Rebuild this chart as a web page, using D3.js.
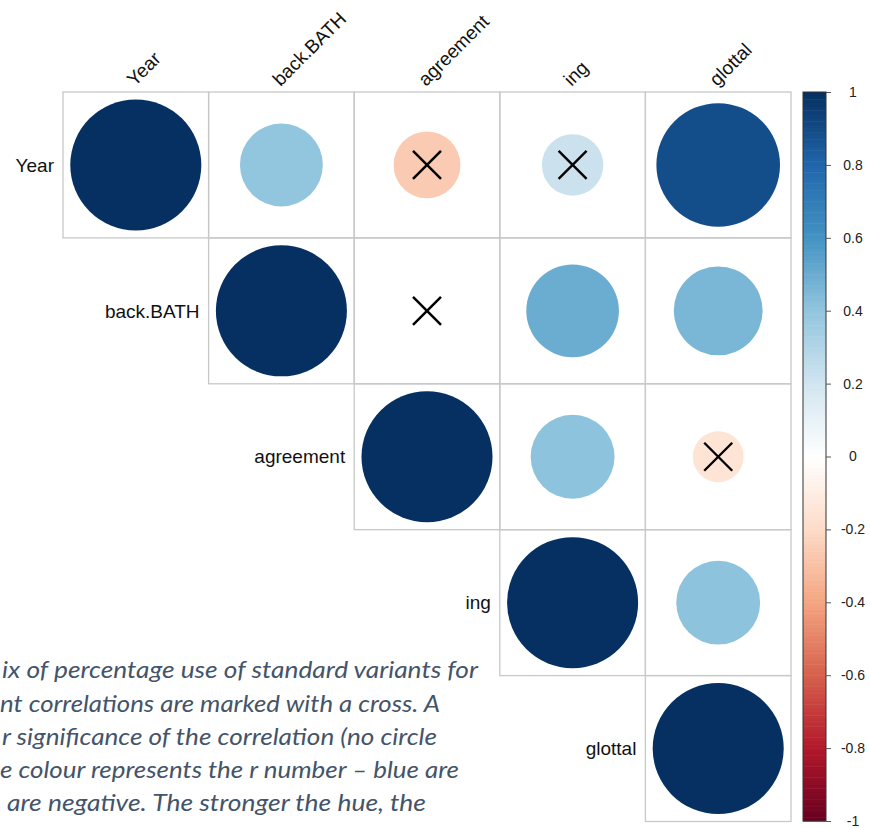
<!DOCTYPE html>
<html>
<head>
<meta charset="utf-8">
<script src="https://cdn.jsdelivr.net/npm/d3@7"></script>
<style>
  html, body { margin: 0; padding: 0; background: #fff; }
  svg { display: block; }
</style>
</head>
<body>
<svg id="chart" width="870" height="828"></svg>
<script>
// ---- data ----
const variables = ["Year", "back.BATH", "agreement", "ing", "glottal"];
const corrYear      = [1.00, 0.40, -0.26, 0.22, 0.89];
const corrBackBATH  = [0.40, 1.00, 0.00, 0.50, 0.46];
const corrAgreement = [-0.26, 0.00, 1.00, 0.41, -0.15];
const corrIng       = [0.22, 0.50, 0.41, 1.00, 0.41];
const corrGlottal   = [0.89, 0.46, -0.15, 0.41, 1.00];
const corrMatrix = [corrYear, corrBackBATH, corrAgreement, corrIng, corrGlottal];
// insignificant pairs (row, col) marked with a cross
const insigRow = [0, 0, 1, 2];
const insigCol = [2, 3, 2, 4];
const colorbarTicks = [1, 0.8, 0.6, 0.4, 0.2, 0, -0.2, -0.4, -0.6, -0.8, -1];
const colorbarLabels = ["1", "0.8", "0.6", "0.4", "0.2", "0", "-0.2", "-0.4", "-0.6", "-0.8", "-1"];
const paletteDomain = [-1, -0.8, -0.6, -0.4, -0.2, 0, 0.2, 0.4, 0.6, 0.8, 1];
const paletteColors = ["#67001F", "#B2182B", "#D6604D", "#F4A582", "#FDDBC7", "#FFFFFF",
                       "#D1E5F0", "#92C5DE", "#4393C3", "#2166AC", "#053061"];
const captionLines = [
  "ix of percentage use of standard variants for",
  "nt correlations are marked with a cross. A",
  "r significance of the correlation (no circle",
  "e colour represents the r number \u2013 blue are",
  "are negative. The stronger the hue, the"
];

// ---- drawing ----
const svg = d3.select("#chart");
const color = d3.scaleLinear().domain(paletteDomain).range(paletteColors).interpolate(d3.interpolateRgb);
const x = d3.scaleBand().domain(d3.range(variables.length)).range([63, 791]);
const y = d3.scaleBand().domain(d3.range(variables.length)).range([92, 821.5]);
const cell = x.bandwidth();
const rScale = d3.scaleSqrt().domain([0, 1]).range([0, cell / 2 * 0.9]);

// caption (cropped at left in the reference)
const capX = [2, 0, 2, 0, 7];
const capEnd = [478, 440, 437, 459, 426];
const capY = [678, 712, 745, 778, 811];
svg.append("g").selectAll("text").data(captionLines).join("text")
  .attr("x", (d, i) => capX[i])
  .attr("y", (d, i) => capY[i])
  .attr("textLength", (d, i) => capEnd[i] - capX[i])
  .attr("lengthAdjust", "spacingAndGlyphs")
  .attr("font-family", "Lato, 'Open Sans', sans-serif")
  .attr("font-style", "italic")
  .attr("font-size", 23)
  .attr("fill", "#44546A")
  .text(d => d);

// cells (upper triangle)
const cells = [];
corrMatrix.forEach((row, i) => row.forEach((v, j) => { if (j >= i) cells.push({ i, j, v }); }));

const g = svg.append("g");
g.selectAll("rect.cell").data(cells).join("rect")
  .attr("class", "cell")
  .attr("x", d => x(d.j))
  .attr("y", d => y(d.i))
  .attr("width", cell)
  .attr("height", y.bandwidth())
  .attr("fill", "none")
  .attr("stroke", "#c8c8c8")
  .attr("stroke-width", 1.3);

g.selectAll("circle").data(cells).join("circle")
  .attr("cx", d => x(d.j) + cell / 2)
  .attr("cy", d => y(d.i) + y.bandwidth() / 2)
  .attr("r", d => rScale(Math.abs(d.v)))
  .attr("fill", d => color(d.v));

// crosses
const crosses = insigRow.map((r, k) => ({ i: r, j: insigCol[k] }));
const cs = 14;
const cg = g.selectAll("g.cross").data(crosses).join("g").attr("class", "cross")
  .attr("transform", d => `translate(${x(d.j) + cell / 2},${y(d.i) + y.bandwidth() / 2})`);
cg.append("line").attr("x1", -cs).attr("y1", -cs).attr("x2", cs).attr("y2", cs)
  .attr("stroke", "#000").attr("stroke-width", 2.4);
cg.append("line").attr("x1", -cs).attr("y1", cs).attr("x2", cs).attr("y2", -cs)
  .attr("stroke", "#000").attr("stroke-width", 2.4);

// row labels
svg.append("g").selectAll("text").data(variables).join("text")
  .attr("x", (d, i) => x(i) - 9)
  .attr("y", (d, i) => y(i) + y.bandwidth() / 2)
  .attr("dy", "0.35em")
  .attr("text-anchor", "end")
  .attr("font-family", "'Liberation Sans', Arial, sans-serif")
  .attr("font-size", 19)
  .attr("fill", "#111")
  .text(d => d);

// column labels (rotated)
svg.append("g").selectAll("text").data(variables).join("text")
  .attr("transform", (d, i) => `translate(${x(i) + cell / 2 - 1},87) rotate(-45)`)
  .attr("text-anchor", "start")
  .attr("font-family", "'Liberation Sans', Arial, sans-serif")
  .attr("font-size", 19)
  .attr("fill", "#111")
  .text(d => d);

// colour bar
const cbX = 803, cbW = 23;
const cbY = d3.scaleLinear().domain([-1, 1]).range([821, 92]);
const steps = d3.range(200).map(k => -1 + (k + 0.5) * 2 / 200);
svg.append("g").selectAll("rect").data(steps).join("rect")
  .attr("x", cbX)
  .attr("y", d => cbY(d + 1 / 200))
  .attr("width", cbW)
  .attr("height", cbY(-1) - cbY(-1 + 2 / 200) + 0.5)
  .attr("fill", d => color(d));
svg.append("rect")
  .attr("x", cbX).attr("y", cbY(1)).attr("width", cbW).attr("height", cbY(-1) - cbY(1))
  .attr("fill", "none").attr("stroke", "#333").attr("stroke-width", 1);

const axis = d3.axisRight(cbY).tickValues(colorbarTicks).tickSize(5).tickPadding(10)
  .tickFormat((d, i) => colorbarLabels[i]);
const ax = svg.append("g").attr("transform", `translate(${cbX + cbW},0)`).call(axis);
ax.select(".domain").remove();
ax.selectAll(".tick line").attr("stroke", "#555");
ax.selectAll(".tick text")
  .attr("x", 27)
  .attr("text-anchor", "middle")
  .attr("font-family", "'Liberation Sans', Arial, sans-serif")
  .attr("font-size", 14)
  .attr("fill", "#222");
</script>
</body>
</html>
